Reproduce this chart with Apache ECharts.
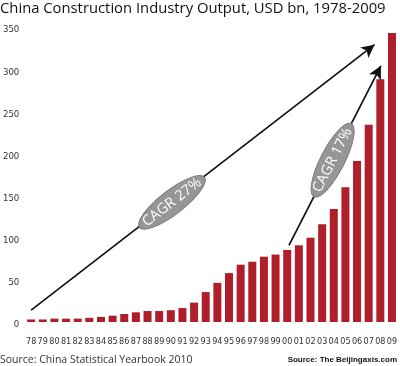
<!DOCTYPE html>
<html><head><meta charset="utf-8">
<script src="https://cdn.jsdelivr.net/npm/echarts@6/dist/echarts.min.js"></script>
<style>html,body{margin:0;padding:0;background:#fff}#c{width:400px;height:366px}</style>
</head><body><div id="c"></div>
<script>
var years = ['78','79','80','81','82','83','84','85','86','87','88','89','90','91','92','93','94','95','96','97','98','99','00','01','02','03','04','05','06','07','08','09'];
var output = [3,3,4,4,4,5,6,7.5,9.5,11.5,13,13,14,16.5,23,35.5,46.5,58,68,71.5,77.5,80,85.5,91,100,116,134,160,191,234,288,343];
var yTicks = {min:0, max:350, interval:50};
// annotation arrows in data space: [categoryIndex, value]
var arrowLong = [[0,14],[29.5,329]];
var arrowShort = [[22.15,91],[30.05,304]];
var labelLong = {text:'CAGR 27%', at:[12.1,142]};
var labelShort = {text:'CAGR 17%', at:[25.9,192]};

function pickNarrow(){
  var c = document.createElement('canvas').getContext('2d');
  var cands = ['Liberation Sans Narrow','DejaVu Sans Condensed','Roboto Condensed'];
  c.font = '20px monospace'; var ref = c.measureText('78 350 abc').width;
  for (var i=0;i<cands.length;i++){
    c.font = '20px "'+cands[i]+'", monospace';
    if (Math.abs(c.measureText('78 350 abc').width - ref) > 0.5) return cands[i];
  }
  return 'Roboto';
}
var narrow = pickNarrow();
var xSize = narrow === 'Liberation Sans Narrow' ? 11 : 9;
var ySize = narrow === 'Liberation Sans Narrow' ? 11 : 9.5;

var chart = echarts.init(document.getElementById('c'), null, {renderer:'canvas'});
chart.setOption({
  animation:false,
  title:{text:'China Construction Industry Output, USD bn, 1978-2009', left:0, top:1, padding:0,
    textStyle:{fontFamily:'"Open Sans", sans-serif', fontSize:14.8, fontWeight:'normal', color:'#111'}},
  grid:{left:20, right:0, top:27, bottom:44},
  xAxis:[{type:'category', data:years, axisLine:{show:false}, axisTick:{show:false},
    axisLabel:{interval:0, margin:15, fontFamily:narrow, fontSize:xSize, color:'#333'}},
    {type:'value', min:-0.5, max:31.5, show:false}],
  yAxis:{type:'value', min:yTicks.min, max:yTicks.max, interval:yTicks.interval,
    splitLine:{show:false}, axisLine:{show:false}, axisTick:{show:false},
    axisLabel:{margin:6, color:'#333', formatter:'{a|{value}}',
      rich:{a:{fontFamily:narrow, fontSize:ySize, color:'#333', padding:[6,0,0,0]}}}},
  series:[
    {type:'bar', data:output, barWidth:8, itemStyle:{color:'#ae1e2b'}},
    {type:'line', xAxisIndex:1, data:[], symbol:'none',
      markLine:{silent:true, symbol:['none','arrow'], symbolSize:[10,13], label:{show:false},
        lineStyle:{color:'#111', width:1.7, type:'solid'},
        data:[[{coord:arrowLong[0]},{coord:arrowLong[1]}],[{coord:arrowShort[0]},{coord:arrowShort[1]}]]}}
  ]
});
function ellipse(lbl, arrow){
  var p = chart.convertToPixel({xAxisIndex:1, yAxisIndex:0}, lbl.at);
  var a = chart.convertToPixel({xAxisIndex:1, yAxisIndex:0}, arrow[0]);
  var b = chart.convertToPixel({xAxisIndex:1, yAxisIndex:0}, arrow[1]);
  var ang = Math.atan2(a[1]-b[1], b[0]-a[0]);
  return [
    {type:'ellipse', x:p[0], y:p[1], rotation:ang, z:100, shape:{cx:0, cy:0, rx:41, ry:12},
      style:{fill:'#969696', stroke:'#7c7c7c', lineWidth:1}},
    {type:'text', x:p[0], y:p[1], rotation:ang, z:101,
      style:{text:lbl.text, fill:'#ffffff', font:'14.5px "Open Sans", sans-serif', align:'center', verticalAlign:'middle'}}
  ];
}
chart.setOption({graphic:[].concat(
  ellipse(labelLong, arrowLong), ellipse(labelShort, arrowShort),
  [{type:'text', left:0, top:355, style:{text:'Source: China Statistical Yearbook 2010', fill:'#333', font:'10.5px "Open Sans", sans-serif'}},
  {type:'text', right:3, top:356, style:{text:'Source: The Beijingaxis.com', fill:'#111', font:'bold 8px "Liberation Sans", sans-serif'}}]
)});
</script></body></html>
